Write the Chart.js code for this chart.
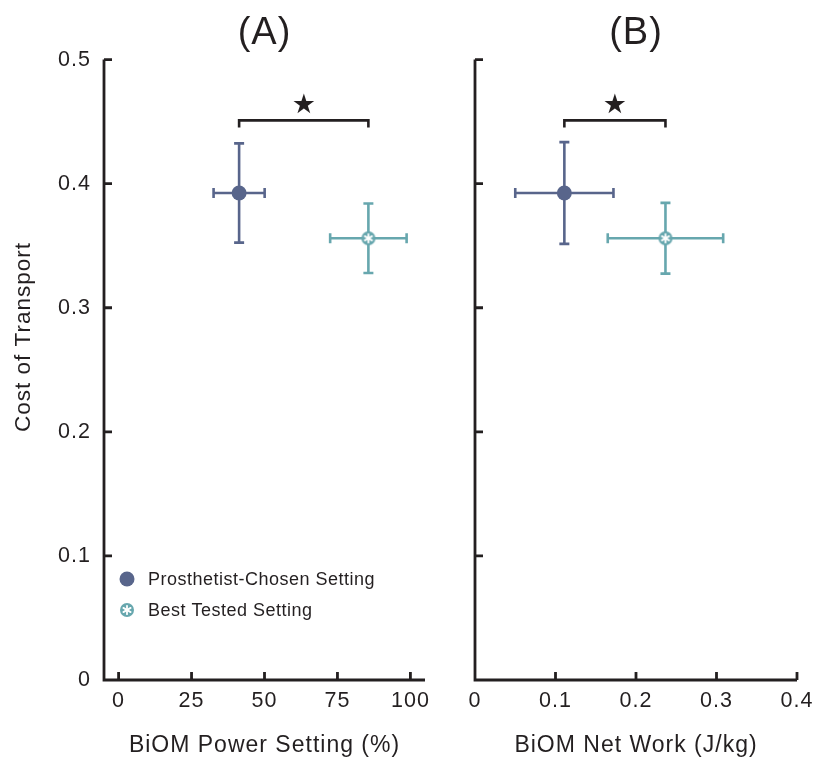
<!DOCTYPE html>
<html>
<head>
<meta charset="utf-8">
<script src="https://cdn.jsdelivr.net/npm/chart.js@4.4.1/dist/chart.umd.min.js"></script>
<style>
  body { margin: 0; background: #fff; }
  #wrap { position: relative; width: 813px; height: 761px; }
  #chartA { position: absolute; left: 0; top: 0; }
  #chartB { position: absolute; left: 440px; top: 0; }
</style>
</head>
<body>
<div id="wrap">
  <canvas id="chartA" width="440" height="761"></canvas>
  <canvas id="chartB" width="373" height="761"></canvas>
</div>
<script>
'use strict';

// series labels
var seriesNames = ['Prosthetist-Chosen Setting', 'Best Tested Setting'];

// panel A: BiOM power setting (%) vs cost of transport
var powerX = [41.3, 85.6];
var powerXErr = [8.75, 13.1];
var powerCot = [0.3925, 0.356];
var powerCotErr = [0.040, 0.028];

// panel B: BiOM net work (J/kg) vs cost of transport
var workX = [0.111, 0.2366];
var workXErr = [0.061, 0.0717];
var workCot = [0.3925, 0.356];
var workCotErr = [0.041, 0.0285];

// tick labels
var cotTicks = [0, 0.1, 0.2, 0.3, 0.4, 0.5];
var powerTicks = [0, 25, 50, 75, 100];
var workTicks = [0, 0.1, 0.2, 0.3, 0.4];

// significance bracket height and star
var bracketY = 0.451;
var starY = 0.463;

var colChosen = '#58658b';
var colBest = '#67a7ae';
var axisCol = '#231f20';
var fontFam = '"Liberation Sans", Arial, Helvetica, sans-serif';

// marker for the best tested setting: teal disc with a white asterisk
function makeStarMarker(r) {
  var c = document.createElement('canvas');
  var s = Math.ceil(r * 2 + 2);
  c.width = s; c.height = s;
  var g = c.getContext('2d');
  var m = s / 2;
  g.fillStyle = colBest;
  g.beginPath(); g.arc(m, m, r, 0, Math.PI * 2); g.fill();
  g.strokeStyle = '#fff';
  g.lineWidth = 1.8;
  g.lineCap = 'round';
  for (var k = 0; k < 3; k++) {
    var a = Math.PI / 2 + k * Math.PI / 3;
    var dx = Math.cos(a) * r * 0.6, dy = Math.sin(a) * r * 0.6;
    g.beginPath(); g.moveTo(m - dx, m - dy); g.lineTo(m + dx, m + dy); g.stroke();
  }
  return c;
}
var bestMarker = makeStarMarker(7);

function drawCircle(ctx, x, y, r, col) {
  ctx.fillStyle = col;
  ctx.beginPath(); ctx.arc(x, y, r, 0, Math.PI * 2); ctx.fill();
}

// slightly tracked lettering for all chart text
var spacingPlugin = {
  id: 'spacing',
  beforeDraw: function(chart) { chart.ctx.letterSpacing = '1px'; }
};

// error bars, inward ticks, bracket and star drawn with the chart's scales
function overlayPlugin(xs, xe, ys, ye, tickList, xTickList, opts) {
  return {
    id: 'overlay',
    beforeDatasetsDraw: function(chart) {
      var ctx = chart.ctx;
      var sx = chart.scales.x, sy = chart.scales.y;
      var cols = [colChosen, colBest];
      ctx.save();
      ctx.lineWidth = 2.6;
      for (var i = 0; i < xs.length; i++) {
        ctx.strokeStyle = cols[i];
        var px = sx.getPixelForValue(xs[i]), py = sy.getPixelForValue(ys[i]);
        var x0 = sx.getPixelForValue(xs[i] - xe[i]), x1 = sx.getPixelForValue(xs[i] + xe[i]);
        var y0 = sy.getPixelForValue(ys[i] - ye[i]), y1 = sy.getPixelForValue(ys[i] + ye[i]);
        ctx.beginPath();
        ctx.moveTo(x0, py); ctx.lineTo(x1, py);
        ctx.moveTo(px, y0); ctx.lineTo(px, y1);
        ctx.moveTo(x0, py - 5); ctx.lineTo(x0, py + 5);
        ctx.moveTo(x1, py - 5); ctx.lineTo(x1, py + 5);
        ctx.moveTo(px - 5, y0); ctx.lineTo(px + 5, y0);
        ctx.moveTo(px - 5, y1); ctx.lineTo(px + 5, y1);
        ctx.stroke();
      }
      // axes with inward ticks
      var area = chart.chartArea;
      ctx.strokeStyle = axisCol;
      ctx.lineWidth = 2.8;
      ctx.beginPath();
      ctx.moveTo(area.left, area.top); ctx.lineTo(area.left, area.bottom);
      ctx.lineTo(area.right, area.bottom);
      tickList.forEach(function(v) {
        var ty = sy.getPixelForValue(v);
        ctx.moveTo(area.left, ty); ctx.lineTo(area.left + 8, ty);
      });
      xTickList.forEach(function(v) {
        var tx = sx.getPixelForValue(v);
        ctx.moveTo(tx, area.bottom); ctx.lineTo(tx, area.bottom - 8);
      });
      ctx.stroke();
      // significance bracket
      var bx0 = sx.getPixelForValue(xs[0]), bx1 = sx.getPixelForValue(xs[1]);
      var by = sy.getPixelForValue(bracketY);
      ctx.lineWidth = 2.6;
      ctx.beginPath();
      ctx.moveTo(bx0, by + 7); ctx.lineTo(bx0, by); ctx.lineTo(bx1, by); ctx.lineTo(bx1, by + 7);
      ctx.stroke();
      ctx.fillStyle = axisCol;
      ctx.letterSpacing = '0px';
      ctx.font = '27px "DejaVu Sans", sans-serif';
      ctx.textAlign = 'center';
      ctx.textBaseline = 'middle';
      ctx.fillText('\u2605', (bx0 + bx1) / 2, sy.getPixelForValue(starY));
      ctx.restore();
    },
    afterDatasetsDraw: function(chart) {
      var ctx = chart.ctx;
      if (opts.yTitle) {
        // y axis title, rotated, sitting a little above the axis middle
        ctx.save();
        ctx.translate(24, 337);
        ctx.rotate(-Math.PI / 2);
        ctx.fillStyle = '#231f20';
        ctx.letterSpacing = '1px';
        ctx.font = '22.5px ' + fontFam;
        ctx.textAlign = 'center';
        ctx.textBaseline = 'middle';
        ctx.fillText(opts.yTitle, 0, 0);
        ctx.restore();
      }
      if (!opts.legend) return;
      ctx.save();
      var lx = chart.chartArea.left + 23;
      var ly = [579, 610];
      drawCircle(ctx, lx, ly[0], 7.5, colChosen);
      ctx.drawImage(bestMarker, lx - bestMarker.width / 2, ly[1] - bestMarker.height / 2);
      ctx.fillStyle = '#231f20';
      ctx.letterSpacing = '0.5px';
      ctx.font = '18px ' + fontFam;
      ctx.textAlign = 'left';
      ctx.textBaseline = 'middle';
      ctx.fillText(seriesNames[0], lx + 21, ly[0] + 1);
      ctx.fillText(seriesNames[1], lx + 21, ly[1] + 1);
      ctx.restore();
    }
  };
}

function makeChart(id, opts) {
  var pts0 = [{ x: opts.xs[0], y: opts.ys[0] }];
  var pts1 = [{ x: opts.xs[1], y: opts.ys[1] }];
  return new Chart(document.getElementById(id), {
    type: 'scatter',
    data: {
      datasets: [
        { label: seriesNames[0], data: pts0, backgroundColor: colChosen, borderWidth: 0, pointRadius: 7.5, pointHoverRadius: 7.5 },
        { label: seriesNames[1], data: pts1, pointStyle: bestMarker, pointRadius: 7, pointHoverRadius: 7 }
      ]
    },
    options: {
      responsive: false,
      animation: false,
      events: [],
      layout: { padding: { left: 0, right: opts.padRight, top: 0, bottom: 0 } },
      plugins: {
        legend: { display: false },
        tooltip: { enabled: false },
        title: {
          display: true,
          text: opts.title,
          fullSize: false,
          color: '#231f20',
          font: { family: fontFam, size: 38, weight: 'normal' },
          padding: { top: 11, bottom: 3 }
        }
      },
      scales: {
        x: {
          type: 'linear',
          min: opts.xMin, max: opts.xMax,
          afterBuildTicks: function(s) { s.ticks = opts.xTicks.map(function(v) { return { value: v }; }); },
          afterFit: function(s) { s.height = 81; },
          grid: { display: false },
          border: { display: false },
          ticks: {
            color: '#231f20', padding: 0,
            font: { family: fontFam, size: 21.5 },
            maxRotation: 0,
            callback: function(v) { return opts.xFmt(v); }
          },
          title: {
            display: true, text: opts.xTitle, color: '#231f20',
            font: { family: fontFam, size: 23 },
            padding: { top: 0, bottom: 2 }
          }
        },
        y: {
          type: 'linear',
          min: 0, max: 0.5,
          afterBuildTicks: function(s) { s.ticks = cotTicks.map(function(v) { return { value: v }; }); },
          afterFit: function(s) { s.width = opts.yWidth; },
          grid: { display: false },
          border: { display: false },
          ticks: {
            display: opts.yLabels,
            color: '#231f20', padding: 5,
            font: { family: fontFam, size: 21.5 },
            callback: function(v) { return v === 0 ? '0' : v.toFixed(1); }
          }
        }
      }
    },
    plugins: [spacingPlugin, overlayPlugin(opts.xs, opts.xe, opts.ys, opts.ye, cotTicks, opts.xTicks, opts)]
  });
}

makeChart('chartA', {
  title: '(A)', xs: powerX, xe: powerXErr, ys: powerCot, ye: powerCotErr,
  xMin: -5, xMax: 105, xTicks: powerTicks, xTitle: 'BiOM Power Setting (%)',
  xFmt: function(v) { return String(v); },
  yWidth: 104, yLabels: true, yTitle: 'Cost of Transport', padRight: 15, legend: true
});

makeChart('chartB', {
  title: '(B)', xs: workX, xe: workXErr, ys: workCot, ye: workCotErr,
  xMin: 0, xMax: 0.4, xTicks: workTicks, xTitle: 'BiOM Net Work (J/kg)',
  xFmt: function(v) { return v === 0 ? '0' : v.toFixed(1); },
  yWidth: 35, yLabels: false, yTitle: null, padRight: 16, legend: false
});
</script>
</body>
</html>
